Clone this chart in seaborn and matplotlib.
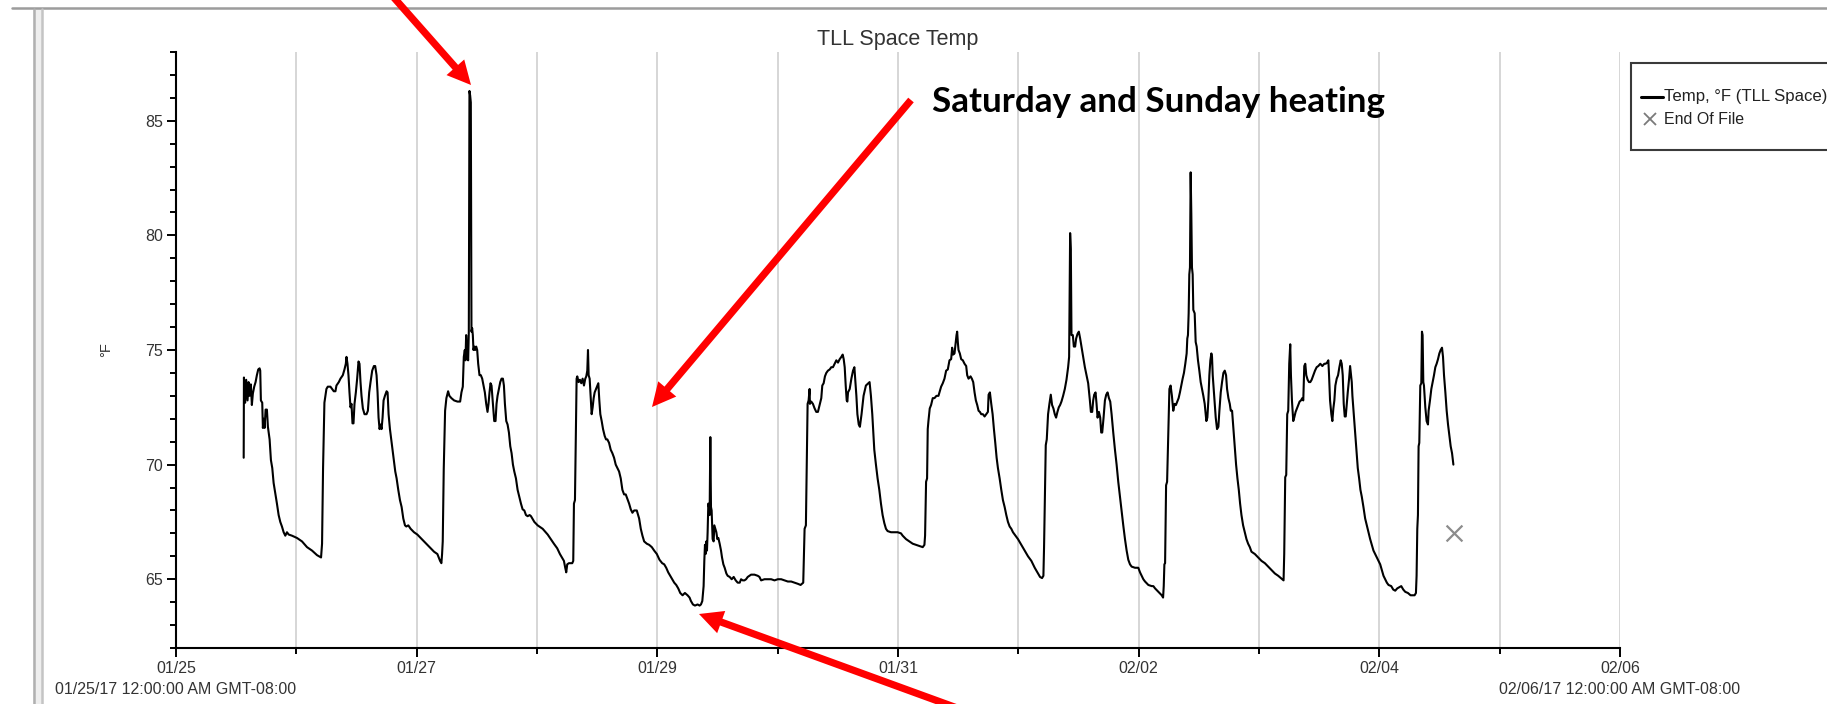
import matplotlib
matplotlib.use("Agg")
import matplotlib.pyplot as plt
import matplotlib.dates as mdates
from matplotlib.patches import FancyArrowPatch, Rectangle, ArrowStyle
from matplotlib.lines import Line2D
import pandas as pd
import seaborn as sns

# ---------------- data (hours since 01/25/17 00:00, temperature in °F) ----------------
START = pd.Timestamp("2017-01-25 00:00")
END = pd.Timestamp("2017-02-06 00:00")

jan25_jan28 = [
    (13.5, 70.3), (13.55, 73.8), (13.8, 72.7), (14.0, 73.7), (14.27, 72.8), (14.47, 73.6), (14.67, 73.0),
    (14.93, 73.5), (15.13, 72.6), (15.33, 73.1), (15.6, 73.4), (15.87, 73.6), (16.13, 73.9), (16.4, 74.15),
    (16.67, 74.2), (16.8, 74.1), (16.93, 72.8), (17.2, 72.7), (17.33, 71.6), (17.47, 72.0), (17.67, 71.6),
    (17.87, 72.4), (18.13, 72.4), (18.33, 71.65), (18.67, 71.1), (18.93, 70.2), (19.2, 69.85), (19.47, 69.2),
    (19.8, 68.75), (20.13, 68.3), (20.47, 67.8), (20.8, 67.5), (21.13, 67.3), (21.47, 67.05), (21.8, 66.9),
    (22.13, 67.05), (22.47, 66.95), (23.13, 66.9), (24.13, 66.8), (25.13, 66.65), (26.13, 66.4), (27.13, 66.25),
    (28.13, 66.05), (28.93, 65.95), (29.13, 66.55), (29.33, 69.85), (29.6, 72.7), (30.0, 73.3), (30.27, 73.4),
    (30.8, 73.4), (31.13, 73.3), (31.47, 73.2), (31.8, 73.2), (32.0, 73.45), (32.47, 73.6), (32.8, 73.75),
    (33.27, 73.9), (33.6, 74.15), (33.87, 74.4), (34.0, 74.7), (34.2, 74.4), (34.4, 73.9), (34.6, 73.15),
    (34.8, 72.5), (35.0, 72.65), (35.2, 71.8), (35.4, 71.8), (35.6, 72.65), (35.87, 73.15), (36.13, 73.75),
    (36.4, 74.5), (36.6, 74.4), (36.8, 73.6), (37.0, 73.0), (37.27, 72.45), (37.6, 72.2), (38.0, 72.2),
    (38.27, 72.35), (38.53, 73.15), (38.8, 73.6), (39.13, 74.1), (39.47, 74.3), (39.73, 74.3), (40.0, 73.9),
    (40.2, 73.15), (40.4, 72.05), (40.6, 71.55), (40.8, 71.75), (41.0, 71.55), (41.2, 72.05), (41.4, 72.8),
    (41.67, 73.0), (42.0, 73.2), (42.2, 73.15), (42.4, 72.2), (42.67, 71.55), (42.93, 71.1), (43.2, 70.65),
    (43.47, 70.15), (43.73, 69.7), (44.0, 69.4), (44.33, 68.9), (44.67, 68.45), (45.0, 68.15), (45.33, 67.65),
    (45.67, 67.35), (45.93, 67.3), (46.33, 67.35), (46.8, 67.2), (47.47, 67.05), (48.13, 66.95), (48.8, 66.8),
    (49.47, 66.65), (50.13, 66.5), (50.8, 66.35), (51.47, 66.2), (52.13, 66.1), (52.4, 65.95), (52.67, 65.8),
    (52.93, 65.7), (53.07, 66.1), (53.2, 66.65), (53.4, 69.8), (53.67, 72.35), (53.93, 72.9), (54.27, 73.2),
    (54.53, 73.0), (54.93, 72.9), (55.47, 72.8), (56.13, 72.75), (56.67, 72.75), (56.93, 73.15), (57.2, 73.4),
    (57.4, 74.7), (57.6, 75.0), (57.73, 74.55), (57.87, 75.65), (58.0, 75.15), (58.13, 74.7), (58.27, 74.55),
    (58.4, 75.8), (58.53, 86.3), (58.67, 86.1), (58.8, 85.8), (58.93, 75.8), (59.07, 75.95), (59.2, 75.65),
    (59.33, 75.0), (59.47, 75.15), (59.67, 75.0), (59.87, 75.15), (60.07, 75.0), (60.27, 74.4), (60.53, 73.9),
    (60.8, 73.9), (61.07, 73.75), (61.33, 73.45), (61.6, 73.15), (61.87, 72.65), (62.13, 72.3), (62.33, 72.65),
    (62.53, 73.15), (62.73, 73.55), (62.93, 73.45), (63.2, 72.65), (63.47, 71.9), (63.73, 71.9), (63.93, 72.65),
    (64.13, 73.0), (64.4, 73.3), (64.67, 73.6), (64.93, 73.75), (65.2, 73.75), (65.4, 73.45), (65.6, 72.65),
    (65.87, 71.9), (66.13, 71.75), (66.4, 71.4), (66.67, 70.8), (66.93, 70.5), (67.2, 70.0), (67.47, 69.7),
    (67.8, 69.4), (68.13, 68.9), (68.47, 68.6), (68.8, 68.3), (69.13, 68.05), (69.47, 68.0), (69.8, 67.8),
    (70.13, 67.75), (70.53, 67.8), (70.8, 67.75), (71.47, 67.5), (72.13, 67.35), (73.13, 67.2), (74.13, 66.95),
]

jan28_jan30 = [
    (75.37, 66.55), (76.03, 66.35), (76.57, 66.1), (76.97, 65.95), (77.37, 65.8), (77.63, 65.5), (77.83, 65.3),
    (78.03, 65.65), (78.37, 65.7), (79.03, 65.7), (79.23, 65.8), (79.37, 68.3), (79.57, 68.45), (79.77, 71.55),
    (79.9, 73.75), (80.03, 73.85), (80.3, 73.6), (80.57, 73.7), (80.83, 73.55), (81.1, 73.75), (81.37, 73.45),
    (81.63, 73.75), (81.83, 73.85), (82.03, 74.1), (82.17, 75.0), (82.3, 73.9), (82.5, 73.75), (82.7, 73.0),
    (82.9, 72.2), (83.1, 72.5), (83.3, 72.9), (83.5, 73.15), (83.77, 73.3), (84.03, 73.45), (84.23, 73.55),
    (84.43, 72.8), (84.63, 72.2), (84.9, 71.9), (85.17, 71.55), (85.5, 71.25), (85.77, 71.1), (86.03, 71.1),
    (86.37, 70.95), (86.7, 70.65), (87.03, 70.5), (87.37, 70.3), (87.7, 70.0), (88.03, 69.85), (88.37, 69.7),
    (88.7, 69.4), (89.03, 68.9), (89.37, 68.7), (89.7, 68.7), (90.03, 68.5), (90.37, 68.3), (90.7, 68.05),
    (91.03, 67.9), (91.37, 68.0), (91.9, 68.0), (92.37, 67.65), (92.7, 67.2), (93.03, 66.9), (93.37, 66.65),
    (93.9, 66.55), (94.37, 66.5), (94.9, 66.4), (95.37, 66.25), (95.9, 66.1), (96.43, 65.85), (96.97, 65.7),
    (97.37, 65.65), (97.77, 65.5), (98.17, 65.3), (98.57, 65.15), (98.97, 65.0), (99.37, 64.85), (99.77, 64.75),
    (100.17, 64.6), (100.57, 64.4), (101.03, 64.3), (101.5, 64.4), (102.03, 64.3), (102.43, 64.2), (102.7, 64.05),
    (103.1, 63.9), (103.5, 63.85), (104.03, 63.9), (104.43, 63.85), (104.7, 63.9), (104.97, 64.05), (105.1, 64.4),
    (105.23, 64.7), (105.37, 65.8), (105.5, 66.5), (105.63, 66.1), (105.77, 66.65), (105.9, 66.25), (106.03, 67.05),
    (106.17, 68.3), (106.3, 68.15), (106.43, 67.8), (106.57, 71.2), (106.7, 68.15), (106.83, 68.0), (107.03, 66.75),
    (107.23, 66.65), (107.37, 67.35), (107.57, 67.2), (107.77, 67.05), (107.97, 66.75), (108.17, 66.8), (108.43, 66.55),
    (108.7, 66.25), (108.9, 65.95), (109.17, 65.65), (109.43, 65.5), (109.77, 65.25), (110.03, 65.15), (110.43, 65.1),
    (110.83, 65.0), (111.23, 65.1), (111.63, 64.95), (112.03, 64.85), (112.43, 64.85), (112.7, 65.0), (113.03, 64.95),
    (113.37, 64.95), (113.7, 65.0), (114.03, 65.1), (114.37, 65.15), (114.7, 65.2), (115.37, 65.2), (116.03, 65.15),
    (116.37, 65.1), (116.7, 64.95), (117.37, 65.0), (118.03, 65.0), (118.7, 65.0), (119.37, 64.95), (120.03, 65.0),
    (120.7, 65.0), (121.37, 64.95), (122.03, 64.9), (122.7, 64.9), (123.37, 64.85), (124.03, 64.8), (124.57, 64.75),
    (124.83, 64.8), (125.1, 64.85), (125.37, 67.2), (125.63, 67.35), (125.83, 70.5), (125.97, 72.65), (126.17, 72.8),
    (126.37, 73.3), (126.43, 72.65), (126.7, 72.75), (127.03, 72.65), (127.37, 72.45), (127.7, 72.3), (128.03, 72.3),
    (128.37, 72.6), (128.7, 72.9), (128.9, 73.45), (129.17, 73.55), (129.43, 73.85), (129.7, 74.0), (130.03, 74.1),
    (130.37, 74.15), (130.7, 74.25), (131.03, 74.25), (131.37, 74.4), (131.7, 74.55), (132.03, 74.45), (132.37, 74.6),
    (132.7, 74.7), (132.97, 74.8), (133.17, 74.6), (133.37, 74.25), (133.57, 73.45), (133.77, 72.8), (133.9, 72.75),
    (134.03, 73.15), (134.37, 73.3), (134.7, 73.75), (135.03, 74.1), (135.3, 74.25), (135.5, 73.6), (135.7, 73.0),
    (135.9, 72.2), (136.17, 71.75),
]

jan30_feb02 = [
    (136.4, 71.65), (136.73, 72.2), (137.13, 73.0), (137.6, 73.45), (138.07, 73.55), (138.33, 73.6), (138.6, 73.0),
    (138.87, 72.2), (139.07, 71.4), (139.27, 70.65), (139.6, 70.0), (139.93, 69.4), (140.27, 68.9), (140.6, 68.3),
    (140.93, 67.8), (141.27, 67.45), (141.6, 67.2), (141.93, 67.1), (142.6, 67.05), (143.27, 67.05), (143.93, 67.05),
    (144.6, 67.0), (144.93, 66.9), (145.6, 66.75), (146.27, 66.65), (146.93, 66.55), (147.6, 66.5), (148.27, 66.45),
    (148.93, 66.4), (149.27, 66.5), (149.4, 66.9), (149.6, 69.25), (149.8, 69.4), (149.93, 71.55), (150.07, 71.9),
    (150.33, 72.45), (150.6, 72.6), (150.93, 72.9), (151.27, 72.9), (151.67, 73.0), (152.07, 73.0), (152.33, 73.2),
    (152.6, 73.4), (152.93, 73.55), (153.27, 73.75), (153.6, 74.1), (153.93, 74.15), (154.27, 74.55), (154.6, 74.6),
    (154.8, 75.1), (155.0, 74.8), (155.27, 74.85), (155.47, 75.25), (155.67, 75.65), (155.8, 75.8), (155.93, 75.35),
    (156.07, 75.0), (156.33, 74.85), (156.6, 74.6), (156.93, 74.55), (157.27, 74.4), (157.6, 74.3), (157.8, 73.9),
    (158.07, 73.75), (158.47, 73.85), (158.73, 73.75), (159.0, 73.6), (159.27, 73.15), (159.53, 72.8), (159.8, 72.6),
    (160.07, 72.35), (160.33, 72.3), (160.6, 72.2), (160.93, 72.2), (161.27, 72.1), (161.6, 72.2), (161.93, 72.3),
    (162.07, 73.05), (162.33, 73.15), (162.6, 72.65), (162.87, 72.2), (163.13, 71.55), (163.4, 70.95), (163.67, 70.3),
    (163.93, 69.85), (164.27, 69.4), (164.6, 68.9), (164.93, 68.45), (165.27, 68.15), (165.6, 67.8), (165.93, 67.5),
    (166.27, 67.3), (166.6, 67.2), (166.93, 67.05), (167.27, 66.95), (167.93, 66.75), (168.6, 66.5), (169.27, 66.25),
    (169.93, 66.0), (170.6, 65.8), (171.27, 65.5), (171.93, 65.25), (172.33, 65.1), (172.73, 65.05), (173.0, 65.15),
    (173.13, 66.4), (173.27, 68.3), (173.47, 70.85), (173.67, 71.1), (173.93, 72.2), (174.2, 72.65), (174.47, 73.05),
    (174.73, 72.6), (175.0, 72.45), (175.27, 72.2), (175.53, 72.05), (175.8, 72.3), (176.07, 72.5), (176.33, 72.6),
    (176.6, 72.75), (176.93, 73.0), (177.27, 73.3), (177.6, 73.7), (177.93, 74.25), (178.13, 74.7), (178.33, 80.1),
    (178.47, 79.4), (178.6, 75.65), (178.87, 75.65), (179.07, 75.15), (179.33, 75.15), (179.53, 75.5), (179.8, 75.7),
    (180.07, 75.8), (180.33, 75.5), (180.6, 75.15), (180.93, 74.7), (181.27, 74.25), (181.6, 73.9), (181.93, 73.55),
    (182.27, 72.8), (182.47, 72.3), (182.73, 72.3), (182.93, 72.8), (183.13, 73.05), (183.4, 73.15), (183.6, 72.65),
    (183.8, 72.05), (184.07, 72.3), (184.33, 72.05), (184.53, 71.4), (184.73, 71.4), (185.0, 72.05), (185.27, 72.8),
    (185.53, 73.05), (185.8, 73.15), (186.07, 72.9), (186.33, 72.75), (186.6, 72.2), (186.93, 71.4), (187.27, 70.65),
    (187.6, 70.0), (187.93, 69.25), (188.27, 68.6), (188.6, 68.0), (188.93, 67.35), (189.27, 66.75), (189.6, 66.25),
    (189.93, 65.85), (190.27, 65.65), (190.6, 65.55), (191.27, 65.5), (191.93, 65.5), (192.27, 65.3), (192.6, 65.15),
    (192.93, 65.0), (193.27, 64.9), (193.93, 64.75), (194.6, 64.7), (194.93, 64.7), (195.27, 64.6), (195.93, 64.45),
    (196.6, 64.3), (196.87, 64.2), (197.0, 64.7), (197.13, 65.65), (197.27, 65.7), (197.47, 69.1), (197.67, 69.25),
    (197.93, 71.55), (198.13, 73.3),
]

feb02_feb04 = [
    (198.37, 73.45), (198.63, 73.0), (198.9, 72.35), (199.17, 72.65), (199.43, 72.6), (199.7, 72.75), (199.97, 72.9),
    (200.23, 73.15), (200.5, 73.45), (200.77, 73.75), (201.03, 74.0), (201.3, 74.4), (201.57, 74.85), (201.7, 75.5),
    (201.83, 75.65), (201.97, 76.6), (202.1, 78.3), (202.23, 78.6), (202.37, 82.75), (202.5, 80.95), (202.63, 78.6),
    (202.77, 78.3), (202.9, 76.75), (203.17, 76.6), (203.37, 75.35), (203.57, 75.15), (203.83, 74.55), (204.1, 74.1),
    (204.37, 73.6), (204.63, 73.3), (204.9, 73.0), (205.17, 72.65), (205.37, 72.2), (205.5, 71.9), (205.7, 72.05),
    (205.9, 72.8), (206.1, 73.9), (206.3, 74.55), (206.5, 74.85), (206.63, 74.7), (206.77, 73.9), (206.97, 73.3),
    (207.17, 72.65), (207.37, 72.05), (207.63, 71.55), (207.9, 71.65), (208.1, 72.35), (208.37, 73.15), (208.63, 73.6),
    (208.9, 74.0), (209.17, 74.1), (209.43, 73.9), (209.63, 73.3), (209.9, 72.9), (210.17, 72.65), (210.37, 72.35),
    (210.63, 72.35), (210.9, 71.55), (211.17, 70.8), (211.43, 70.0), (211.7, 69.4), (211.97, 68.9), (212.23, 68.3),
    (212.5, 67.8), (212.83, 67.35), (213.17, 67.05), (213.5, 66.75), (213.83, 66.55), (214.17, 66.4), (214.5, 66.2),
    (215.17, 66.1), (215.83, 65.95), (216.5, 65.8), (217.17, 65.7), (217.83, 65.55), (218.5, 65.4), (219.17, 65.25),
    (219.83, 65.15), (220.63, 65.0), (220.9, 64.95), (221.03, 66.1), (221.23, 69.45), (221.43, 69.55), (221.63, 72.2),
    (221.83, 72.35), (222.03, 74.4), (222.23, 75.25), (222.37, 73.9), (222.57, 72.8), (222.83, 71.9), (223.03, 72.05),
    (223.3, 72.3), (223.57, 72.45), (223.83, 72.6), (224.1, 72.75), (224.37, 72.8), (224.63, 72.9), (224.83, 72.8),
    (225.03, 74.3), (225.23, 74.4), (225.43, 73.9), (225.7, 73.7), (225.97, 73.6), (226.23, 73.6), (226.5, 73.7),
    (226.83, 73.9), (227.17, 74.1), (227.5, 74.25), (227.83, 74.3), (228.23, 74.4), (228.63, 74.3), (229.03, 74.4),
    (229.3, 74.4), (229.57, 74.45), (229.83, 74.55), (229.97, 73.9), (230.17, 72.8), (230.43, 72.2), (230.63, 71.9),
    (230.83, 72.45), (231.03, 72.8), (231.23, 73.45), (231.5, 73.75), (231.77, 73.9), (232.03, 74.25), (232.3, 74.55),
    (232.5, 74.4), (232.7, 73.9), (232.9, 72.65), (233.1, 72.1), (233.3, 72.1), (233.5, 72.65), (233.7, 73.15),
    (233.97, 73.75), (234.17, 74.3), (234.37, 73.9), (234.5, 73.6), (234.63, 73.0), (234.9, 72.2), (235.17, 71.4),
    (235.43, 70.65), (235.7, 69.85), (235.97, 69.4), (236.23, 68.9), (236.5, 68.6), (236.83, 68.15), (237.17, 67.65),
    (237.5, 67.35), (237.83, 67.05), (238.17, 66.75), (238.5, 66.5), (238.83, 66.25), (239.17, 66.1), (239.5, 65.95),
    (239.83, 65.8), (240.17, 65.65), (240.5, 65.4), (240.83, 65.15), (241.17, 65.0), (241.5, 64.85), (241.83, 64.75),
    (242.37, 64.7), (242.77, 64.55), (243.17, 64.5), (243.57, 64.6), (243.97, 64.65), (244.37, 64.7), (244.77, 64.55),
    (245.17, 64.45), (245.7, 64.4), (246.23, 64.3), (246.63, 64.3), (247.03, 64.3), (247.3, 64.4), (247.43, 65.15),
    (247.57, 67.2), (247.7, 67.8), (247.83, 70.8), (247.97, 70.95), (248.17, 73.45), (248.37, 73.55), (248.5, 75.8),
    (248.63, 75.65), (248.77, 73.6), (248.9, 73.45), (249.17, 72.5), (249.43, 71.9), (249.7, 71.75), (249.83, 72.35),
    (250.1, 72.8), (250.37, 73.3), (250.63, 73.6), (250.9, 73.9), (251.17, 74.25), (251.43, 74.4), (251.7, 74.6),
    (251.97, 74.85), (252.23, 75.0), (252.5, 75.1), (252.7, 74.7), (252.9, 73.9), (253.17, 73.15), (253.43, 72.35),
    (253.7, 71.75), (253.97, 71.25), (254.23, 70.8), (254.5, 70.5), (254.77, 70.0),
]

eof_hour = 254.8
eof_temp = 67.0

y_ticks = [65, 70, 75, 80, 85]
title_text = "TLL Space Temp"
y_label = "°F"
series_label = "Temp, °F (TLL Space)"
eof_label = "End Of File"
start_label = "01/25/17 12:00:00 AM GMT-08:00"
end_label = "02/06/17 12:00:00 AM GMT-08:00"
note_text = "Saturday and Sunday heating"

# ---------------- build frame ----------------
rows = jan25_jan28 + jan28_jan30 + jan30_feb02 + feb02_feb04
df = pd.DataFrame(rows, columns=["hours", "temp"])
df["time"] = START + pd.to_timedelta(df["hours"], unit="h")
eof_time = START + pd.to_timedelta(eof_hour, unit="h")

sns.set_style("white")
plt.rcParams["font.family"] = ["Liberation Sans", "DejaVu Sans"]

W_PX, H_PX = 1827, 704
fig = plt.figure(figsize=(W_PX / 100, H_PX / 100), dpi=100)
fig.patch.set_facecolor("white")


def fx(x):
    return x / W_PX


def fy(y):
    return 1 - y / H_PX


ax_l, ax_r, ax_t, ax_b = 176, 1620, 52, 648
ax = fig.add_axes([fx(ax_l), fy(ax_b), fx(ax_r) - fx(ax_l), fy(ax_t) - fy(ax_b)])
ax.set_facecolor("white")

sns.lineplot(data=df, x="time", y="temp", ax=ax, color="black", linewidth=1.5,
             estimator=None, sort=False, legend=False)
ax.scatter([eof_time], [eof_temp], marker="x", s=130, color="#8c8c8c", linewidths=1.6, zorder=3)

ax.set_xlim(START, END)
ax.set_ylim(62, 88)
major_days = pd.date_range(START, END, freq="2D")
minor_days = pd.date_range(START, END, freq="1D")
ax.xaxis.set_major_locator(matplotlib.ticker.FixedLocator(mdates.date2num(major_days)))
ax.xaxis.set_minor_locator(matplotlib.ticker.FixedLocator(mdates.date2num(minor_days)))
ax.xaxis.set_major_formatter(mdates.DateFormatter("%m/%d"))
ax.set_yticks(y_ticks)
ax.yaxis.set_minor_locator(matplotlib.ticker.MultipleLocator(1))

ax.grid(False)
ax.grid(axis="x", which="both", color="#d6d6d6", linewidth=1.4)
ax.set_axisbelow(True)
for s in ["top", "right"]:
    ax.spines[s].set_visible(False)
for s in ["left", "bottom"]:
    ax.spines[s].set_color("black")
    ax.spines[s].set_linewidth(1.5)

ax.tick_params(axis="both", which="major", direction="out", length=6.5, width=1.4,
               color="black", labelsize=11.5, labelcolor="#333333", pad=3,
               bottom=True, left=True)
ax.tick_params(axis="both", which="minor", direction="out", length=4.5, width=1.4,
               color="black", bottom=True, left=True)
ax.set_xlabel("")
ax.set_ylabel("")

# second-line date labels under the first and last ticks
xform = ax.get_xaxis_transform()
lab_y = (ax_b - 690) / (ax_b - ax_t)
ax.text(START, lab_y, start_label, transform=xform, ha="center", va="center",
        fontsize=11.5, color="#333333", clip_on=False)
ax.text(END, lab_y, end_label, transform=xform, ha="center", va="center",
        fontsize=11.5, color="#333333", clip_on=False)

# title and y label
fig.text(fx((ax_l + ax_r) / 2), fy(39.6), title_text, ha="center", va="center",
         fontsize=15.5, color="#333333")
fig.text(fx(106), fy(350), y_label, ha="center", va="center", rotation=90,
         fontsize=10.5, color="#333333")

# legend box (cut off at the right edge as in the screenshot)
fig.add_artist(Rectangle((fx(1631), fy(150)), fx(1900) - fx(1631), fy(63) - fy(150),
                         transform=fig.transFigure, facecolor="white", edgecolor="#3a3a3a",
                         linewidth=1.5))
fig.add_artist(Line2D([fx(1641), fx(1663)], [fy(97), fy(97)], transform=fig.transFigure,
                      color="black", linewidth=2.2))
t_leg = fig.text(fx(1664), fy(97), series_label, ha="left", va="center", fontsize=11.5,
                 color="#222222")
fig.add_artist(Line2D([fx(1650)], [fy(119)], transform=fig.transFigure, marker="x",
                      markersize=8, markeredgewidth=1.3, color="#7a7a7a", linestyle="none"))
fig.text(fx(1664), fy(119), eof_label, ha="left", va="center", fontsize=11.5, color="#222222")

# screenshot window frame
fig.add_artist(Line2D([fx(12), 1.0], [fy(7.5), fy(7.5)], transform=fig.transFigure,
                      color="#9c9c9c", linewidth=1.8))
fig.add_artist(Rectangle((fx(33), 0), fx(43) - fx(33), fy(9), transform=fig.transFigure,
                         facecolor="#eeeeee", edgecolor="none"))
fig.add_artist(Line2D([fx(33.5), fx(33.5)], [0, fy(9)], transform=fig.transFigure,
                      color="#b0b0b0", linewidth=1.8))
fig.add_artist(Line2D([fx(42), fx(42)], [0, fy(9)], transform=fig.transFigure,
                      color="#c4c4c4", linewidth=1.8))

# red annotation arrows and text
t_note = fig.text(fx(932), fy(102.5), note_text, ha="left", va="center", fontsize=22,
                  fontweight="bold", family=["Lato", "DejaVu Sans"], color="black")

arrow_style = ArrowStyle.Simple(head_length=17, head_width=17, tail_width=5.2)
for (x0, y0), (x1, y1) in [((381, -17), (471, 85)),
                           ((911, 100), (652, 407)),
                           ((990, 720), (699, 614))]:
    fig.add_artist(FancyArrowPatch((fx(x0), fy(y0)), (fx(x1), fy(y1)),
                                   transform=fig.transFigure, arrowstyle=arrow_style,
                                   mutation_scale=1, shrinkA=0, shrinkB=0,
                                   facecolor="#ff0000", edgecolor="none", linewidth=0,
                                   zorder=10))

# fit text widths to the screenshot
renderer = fig.canvas.get_renderer()
for txt, target in [(t_note, 451), (t_leg, 164)]:
    bb = txt.get_window_extent(renderer)
    txt.set_fontsize(txt.get_fontsize() * target / bb.width)

fig.savefig("out.png", dpi=100, facecolor="white")
